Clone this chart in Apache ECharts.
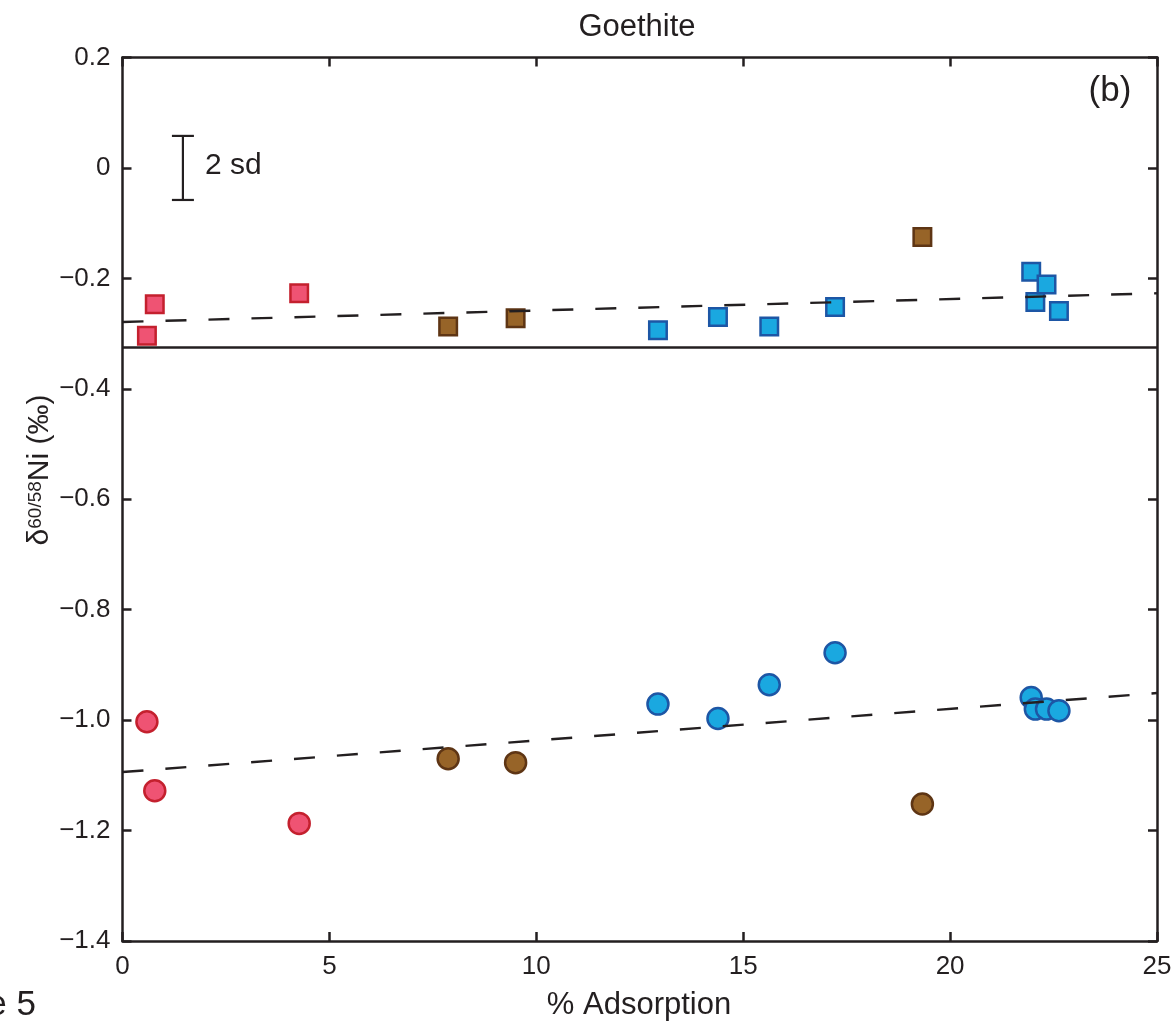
<!DOCTYPE html>
<html>
<head>
<meta charset="utf-8">
<script src="https://cdn.jsdelivr.net/npm/echarts@6/dist/echarts.min.js"></script>
<style>
html,body{margin:0;padding:0;background:#fff;}
#chart{width:1175px;height:1023px;}
</style>
</head>
<body>
<div id="chart"></div>
<script>
// ---- data ----
const xTicks = [0, 5, 10, 15, 20, 25];
const yTicks = [-1.4, -1.2, -1.0, -0.8, -0.6, -0.4, -0.2, 0, 0.2];

const redX   = [0.59, 0.78, 4.27];
const brownX = [7.87, 9.50, 19.33];
const blueX  = [12.94, 14.39, 15.63, 17.22, 21.96, 22.06, 22.33, 22.63];

const redSquares   = [-0.304, -0.247, -0.227];
const brownSquares = [-0.287, -0.272, -0.125];
const blueSquares  = [-0.294, -0.270, -0.287, -0.252, -0.188, -0.243, -0.211, -0.259];

const redCircles   = [-1.003, -1.128, -1.187];
const brownCircles = [-1.070, -1.077, -1.152];
const blueCircles  = [-0.971, -0.997, -0.936, -0.878, -0.959, -0.980, -0.980, -0.983];

const fitTop    = [[0, -0.279], [25, -0.227]];
const fitBottom = [[0, -1.094], [25, -0.951]];
const separatorY = -0.325;

const errorBar = [[1.46, 0, 0.058]];
const errorBarLabel = '2 sd';

const titleText = 'Goethite';
const panelLabel = '(b)';
const xName = '% Adsorption';
const figLabel = 'Figure 5';
const yNameParts = ['\u03b4', '60/58', 'Ni (\u2030)'];

// ---- styles ----
const ink = '#231f20';
const FONT = "'Liberation Sans', Arial, Helvetica, sans-serif";
const colors = {
  red:   {fill: '#ef5373', stroke: '#c4202e'},
  brown: {fill: '#976428', stroke: '#5e3514'},
  blue:  {fill: '#1aa8e0', stroke: '#1d56a5'}
};

function pairs(xs, ys) { return xs.map((x, i) => [x, ys[i]]); }

function fmtY(v) {
  const r = Math.round(v * 10) / 10;
  if (Math.abs(r) < 1e-9) return '0';
  return (r < 0 ? '\u2212' : '') + Math.abs(r).toFixed(1);
}

function scatter(name, xs, ys, col, symbol, size) {
  return {
    type: 'scatter', name: name, data: pairs(xs, ys),
    symbol: symbol, symbolSize: size,
    itemStyle: {color: col.fill, borderColor: col.stroke, borderWidth: 2.5, opacity: 1},
    z: 3, emphasis: {disabled: true}
  };
}

const axisCommon = {
  type: 'value',
  axisLine: {show: true, onZero: false, lineStyle: {color: ink, width: 2.5}},
  axisTick: {show: true, inside: true, length: 9, lineStyle: {color: ink, width: 2.5}},
  splitLine: {show: false}
};

// y-axis name built from measured parts (rotated group)
const measureCtx = document.createElement('canvas').getContext('2d');
function textW(t, size) { measureCtx.font = size + 'px ' + FONT; return measureCtx.measureText(t).width; }
const baseSize = 30, supSize = 19;
const wParts = [textW(yNameParts[0], baseSize), textW(yNameParts[1], supSize), textW(yNameParts[2], baseSize)];
const wTotal = wParts[0] + wParts[1] + wParts[2];
const x0 = -wTotal / 2;
const yNameChildren = [
  {type: 'text', x: x0, y: 0, style: {text: yNameParts[0], fill: ink, font: baseSize + 'px ' + FONT, align: 'left', verticalAlign: 'middle'}},
  {type: 'text', x: x0 + wParts[0], y: -4, style: {text: yNameParts[1], fill: ink, font: supSize + 'px ' + FONT, align: 'left', verticalAlign: 'middle'}},
  {type: 'text', x: x0 + wParts[0] + wParts[1], y: 0, style: {text: yNameParts[2], fill: ink, font: baseSize + 'px ' + FONT, align: 'left', verticalAlign: 'middle'}}
];

const chart = echarts.init(document.getElementById('chart'), null, {renderer: 'canvas'});

const option = {
  animation: false,
  backgroundColor: '#ffffff',
  grid: {left: 122.5, top: 57.5, width: 1034.5, height: 883.5, containLabel: false},
  xAxis: [
    Object.assign({}, axisCommon, {
      position: 'bottom', min: xTicks[0], max: xTicks[xTicks.length - 1], interval: 5,
      axisLabel: {show: true, color: ink, fontSize: 26, fontFamily: FONT, margin: 13}
    }),
    Object.assign({}, axisCommon, {
      position: 'top', min: xTicks[0], max: xTicks[xTicks.length - 1], interval: 5,
      axisLabel: {show: false}
    })
  ],
  yAxis: [
    Object.assign({}, axisCommon, {
      position: 'left', min: yTicks[0], max: yTicks[yTicks.length - 1], interval: 0.2,
      axisLabel: {show: true, color: ink, fontSize: 26, fontFamily: FONT, margin: 12, formatter: fmtY}
    }),
    Object.assign({}, axisCommon, {
      position: 'right', min: yTicks[0], max: yTicks[yTicks.length - 1], interval: 0.2,
      axisLabel: {show: false}
    })
  ],
  series: [
    scatter('red squares', redX, redSquares, colors.red, 'rect', 17.5),
    scatter('brown squares', brownX, brownSquares, colors.brown, 'rect', 17.5),
    scatter('blue squares', blueX, blueSquares, colors.blue, 'rect', 17.5),
    scatter('red circles', redX, redCircles, colors.red, 'circle', 21),
    scatter('brown circles', brownX, brownCircles, colors.brown, 'circle', 21),
    scatter('blue circles', blueX, blueCircles, colors.blue, 'circle', 21),
    {
      type: 'line', data: fitTop, symbol: 'none', z: 5,
      lineStyle: {color: ink, width: 2.4, type: [21, 22]}
    },
    {
      type: 'line', data: fitBottom, symbol: 'none', z: 5,
      lineStyle: {color: ink, width: 2.4, type: [21, 22]}
    },
    {
      type: 'line', data: [[xTicks[0], separatorY], [xTicks[xTicks.length - 1], separatorY]],
      symbol: 'none', z: 5, lineStyle: {color: ink, width: 2.5}
    },
    {
      type: 'custom', data: errorBar, z: 6,
      renderItem: function (params, api) {
        const x = api.value(0), y = api.value(1), h = api.value(2);
        const t = api.coord([x, y + h]);
        const b = api.coord([x, y - h]);
        const m = api.coord([x, y]);
        const st = {stroke: ink, lineWidth: 2.2};
        return {
          type: 'group',
          children: [
            {type: 'line', shape: {x1: t[0], y1: t[1], x2: b[0], y2: b[1]}, style: st},
            {type: 'line', shape: {x1: t[0] - 11, y1: t[1], x2: t[0] + 11, y2: t[1]}, style: st},
            {type: 'line', shape: {x1: b[0] - 11, y1: b[1], x2: b[0] + 11, y2: b[1]}, style: st},
            {type: 'text', style: {text: errorBarLabel, x: m[0] + 22, y: m[1] - 2, fill: ink,
              font: '30px ' + FONT, align: 'left', verticalAlign: 'middle'}}
          ]
        };
      }
    }
  ],
  graphic: [
    {type: 'text', x: 637, y: 27, style: {text: titleText, fill: ink, font: '31px ' + FONT,
      align: 'center', verticalAlign: 'middle'}},
    {type: 'text', x: 1110, y: 91, style: {text: panelLabel, fill: ink, font: '35px ' + FONT,
      align: 'center', verticalAlign: 'middle'}},
    {type: 'text', x: 639, y: 1005, style: {text: xName, fill: ink, font: '31px ' + FONT,
      align: 'center', verticalAlign: 'middle'}},
    {type: 'text', x: 36, y: 1005, style: {text: figLabel, fill: ink, font: '35px ' + FONT,
      align: 'right', verticalAlign: 'middle'}},
    {type: 'group', x: 40, y: 470, rotation: Math.PI / 2, children: yNameChildren}
  ]
};
chart.setOption(option);
</script>
</body>
</html>
